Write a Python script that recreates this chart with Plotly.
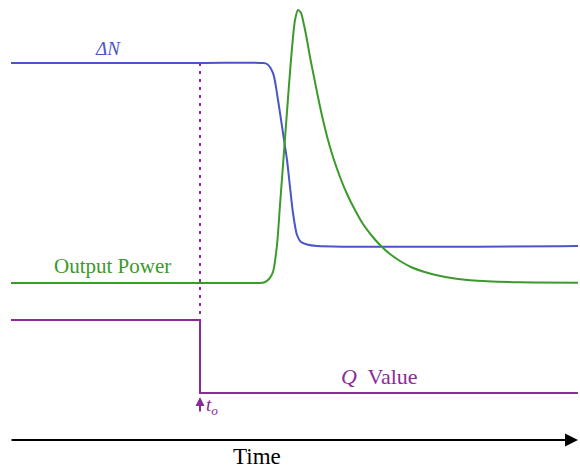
import plotly.graph_objects as go

W, H = 580, 469

# Time axis positions (arbitrary units along the time line)
t_dn = [11, 200, 262, 267, 273, 278, 283, 287, 290, 293, 297, 301, 307, 317, 578]
# Population inversion ΔN (depth below the top edge)
dn_depth = [63, 63, 63, 64, 73, 100, 133, 160, 187, 213, 235, 242, 244.5, 246, 246]

t_pw = [11, 200, 258, 264, 269, 273, 277, 280, 283, 286, 289, 292, 295, 298, 301,
        304, 307, 310, 314, 318, 323, 328, 333, 340, 347, 355, 363, 372, 380, 390,
        400, 412, 423, 438, 453, 470, 487, 520, 578]
# Output power pulse
pw_depth = [283, 283, 283, 282.5, 279, 272, 245, 205, 165, 125, 85, 48, 20, 10, 13,
            25, 40, 57, 77, 97, 120, 140, 157, 177, 194, 210, 224, 236, 245, 254,
            261, 267.5, 271.5, 275.5, 278.3, 280.2, 281.3, 282.3, 282.7]

t_q = [11, 200, 200, 578]
# Cavity Q value: switched at t_o
q_depth = [320, 320, 393, 393]

t_switch = 200
dashed_depth = [63, 320]

BLUE = "#4a55c8"
GREEN = "#3a9a2a"
PURPLE = "#8a2c98"
SERIF = "Liberation Serif, Times New Roman, serif"


def lvl(vals):
    return [H - v for v in vals]


fig = go.Figure()

fig.add_trace(go.Scatter(x=[t_switch, t_switch], y=lvl(dashed_depth), mode="lines",
                         line=dict(color=PURPLE, width=2, dash="3px,5px"), hoverinfo="skip"))
fig.add_trace(go.Scatter(x=t_dn, y=lvl(dn_depth), mode="lines",
                         line=dict(color=BLUE, width=2, shape="spline", smoothing=0.8)))
fig.add_trace(go.Scatter(x=t_pw, y=lvl(pw_depth), mode="lines",
                         line=dict(color=GREEN, width=2, shape="spline", smoothing=0.7)))
fig.add_trace(go.Scatter(x=t_q, y=lvl(q_depth), mode="lines",
                         line=dict(color=PURPLE, width=2)))

# Time axis arrow
fig.add_annotation(x=578, y=H - 440, ax=10, ay=H - 440, xref="x", yref="y",
                   axref="x", ayref="y", text="", showarrow=True,
                   arrowhead=2, arrowsize=1.3, arrowwidth=2, arrowcolor="black")
# Switching instant arrow
fig.add_annotation(x=t_switch, y=H - 397, ax=t_switch, ay=H - 413, xref="x", yref="y",
                   axref="x", ayref="y", text="", showarrow=True,
                   arrowhead=2, arrowsize=0.9, arrowwidth=2, arrowcolor=PURPLE)

labels = [
    (108, 48, "<i>ΔN</i>", BLUE, 19),
    (112, 266, "Output Power", GREEN, 21),
    (379, 376, "<i>Q</i>  Value", PURPLE, 22),
    (212, 406, "<i>t</i><sub><i>o</i></sub>", PURPLE, 19),
    (257, 456, "Time", "black", 23),
]
for x, d, txt, col, size in labels:
    fig.add_annotation(x=x, y=H - d, xref="x", yref="y", text=txt, showarrow=False,
                       font=dict(family=SERIF, size=size, color=col),
                       xanchor="center", yanchor="middle", borderpad=0)

fig.update_layout(
    width=W, height=H, margin=dict(l=0, r=0, t=0, b=0),
    paper_bgcolor="white", plot_bgcolor="white", showlegend=False,
    xaxis=dict(range=[0, W], visible=False, fixedrange=True),
    yaxis=dict(range=[0, H], visible=False, fixedrange=True),
)

fig.write_html("out.html")
